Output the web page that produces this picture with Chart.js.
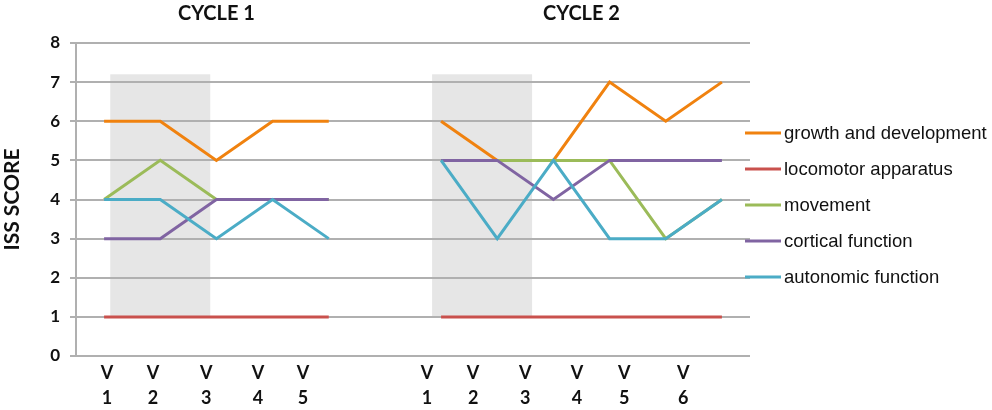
<!DOCTYPE html>
<html>
<head>
<meta charset="utf-8">
<script src="https://cdn.jsdelivr.net/npm/chart.js@4"></script>
<style>
  body { margin: 0; background: #fff; }
  #wrap { width: 992px; height: 410px; }
</style>
</head>
<body>
<div id="wrap"><canvas id="issChart"></canvas></div>
<script>
// ISS score per visit, two cycles (null = gap between cycles)
const cycleTitles = ['CYCLE 1', 'CYCLE 2'];
const cycleRanges = [[0, 4], [6, 11]];

const growth     = [6, 6, 5, 6, 6, null, 6, 5, 5, 7, 6, 7];
const locomotor  = [1, 1, 1, 1, 1, null, 1, 1, 1, 1, 1, 1];
const movement   = [4, 5, 4, 4, 4, null, 5, 5, 5, 5, 3, 4];
const cortical   = [3, 3, 4, 4, 4, null, 5, 5, 4, 5, 5, 5];
const autonomic  = [4, 4, 3, 4, 3, null, 5, 3, 5, 3, 3, 4];

const seriesNames  = ['growth and development', 'locomotor apparatus', 'movement', 'cortical function', 'autonomic function'];
const seriesColors = ['#f0820f', '#c9514d', '#9bbb59', '#8064a2', '#4bacc6'];

// visit tick labels (the original puts them slightly off the points)
const tickLabels = [['V', '1'], ['V', '2'], ['V', '3'], ['V', '4'], ['V', '5'],
                    ['V', '1'], ['V', '2'], ['V', '3'], ['V', '4'], ['V', '5'], ['V', '6']];
const tickPos = [0.05, 0.87, 1.82, 2.74, 3.54, 5.75, 6.57, 7.50, 8.42, 9.26, 10.31];

// grey shaded visits [xFrom, xTo, yFrom, yTo]
const shades = [[0.11, 1.89, 1, 7.2], [5.84, 7.62, 1, 7.2]];

const yTicks = [0, 1, 2, 3, 4, 5, 6, 7, 8];

function toPoints(arr) {
  return arr.map((v, i) => ({ x: i, y: v }));
}

const allSeries = [growth, locomotor, movement, cortical, autonomic];

const shadePlugin = {
  id: 'shade',
  beforeDraw(chart) {
    const { ctx, scales: { x, y } } = chart;
    ctx.save();
    ctx.fillStyle = '#e6e6e6';
    shades.forEach(s => {
      const x0 = x.getPixelForValue(s[0]), x1 = x.getPixelForValue(s[1]);
      const y0 = y.getPixelForValue(s[3]), y1 = y.getPixelForValue(s[2]);
      ctx.fillRect(x0, y0, x1 - x0, y1 - y0);
    });
    ctx.restore();
  }
};

const titlesPlugin = {
  id: 'cycleTitles',
  afterDraw(chart) {
    const { ctx, scales: { x } } = chart;
    ctx.save();
    ctx.font = 'bold 20px Lato';
    ctx.fillStyle = '#111';
    ctx.textAlign = 'center';
    ctx.textBaseline = 'middle';
    cycleTitles.forEach((t, i) => {
      const mid = (cycleRanges[i][0] + cycleRanges[i][1]) / 2;
      ctx.fillText(t, x.getPixelForValue(mid), 14);
    });
    ctx.restore();
  }
};

const legendPlugin = {
  id: 'sideLegend',
  afterDraw(chart) {
    const { ctx } = chart;
    ctx.save();
    ctx.font = '18.5px "Liberation Sans"';
    ctx.textBaseline = 'middle';
    chart.data.datasets.forEach((ds, i) => {
      const yy = 133 + i * 36;
      ctx.strokeStyle = ds.borderColor;
      ctx.lineWidth = 3;
      ctx.beginPath();
      ctx.moveTo(745, yy);
      ctx.lineTo(781, yy);
      ctx.stroke();
      ctx.fillStyle = '#111';
      ctx.fillText(ds.label, 784, yy + 1);
    });
    ctx.restore();
  }
};

new Chart(document.getElementById('issChart'), {
  type: 'line',
  data: {
    datasets: allSeries.map((arr, i) => ({
      label: seriesNames[i],
      data: toPoints(arr),
      borderColor: seriesColors[i],
      backgroundColor: seriesColors[i],
      borderWidth: 3,
      pointRadius: 0,
      tension: 0,
      spanGaps: false,
      order: allSeries.length - i
    }))
  },
  options: {
    responsive: true,
    maintainAspectRatio: false,
    animation: false,
    layout: { padding: { top: 43, right: 242, bottom: 0, left: 0 } },
    scales: {
      x: {
        type: 'linear',
        min: -0.5,
        max: 11.5,
        afterBuildTicks: scale => { scale.ticks = tickPos.map(v => ({ value: v })); },
        afterFit: scale => { scale.height = 54; },
        grid: { display: false, drawTicks: false },
        border: { display: false },
        ticks: {
          autoSkip: false,
          maxRotation: 0,
          padding: 5,
          color: '#111',
          font: { family: 'Lato', size: 18, weight: 'bold', lineHeight: 1.39 },
          callback: (v, i) => tickLabels[i]
        }
      },
      y: {
        min: 0,
        max: 8,
        afterBuildTicks: scale => { scale.ticks = yTicks.map(v => ({ value: v })); },
        afterFit: scale => { scale.width = 76; },
        grid: { color: '#b0b0b0', lineWidth: 2, tickLength: 6, tickColor: '#b0b0b0' },
        border: { color: '#b0b0b0', width: 2 },
        ticks: {
          padding: 10,
          color: '#111',
          font: { family: 'Lato', size: 17, weight: 'bold' }
        },
        title: {
          display: true,
          text: 'ISS SCORE',
          color: '#111',
          padding: 0,
          font: { family: 'Lato', size: 21, weight: 'bold' }
        }
      }
    },
    plugins: {
      legend: { display: false },
      tooltip: { enabled: false }
    }
  },
  plugins: [shadePlugin, titlesPlugin, legendPlugin]
});
</script>
</body>
</html>
